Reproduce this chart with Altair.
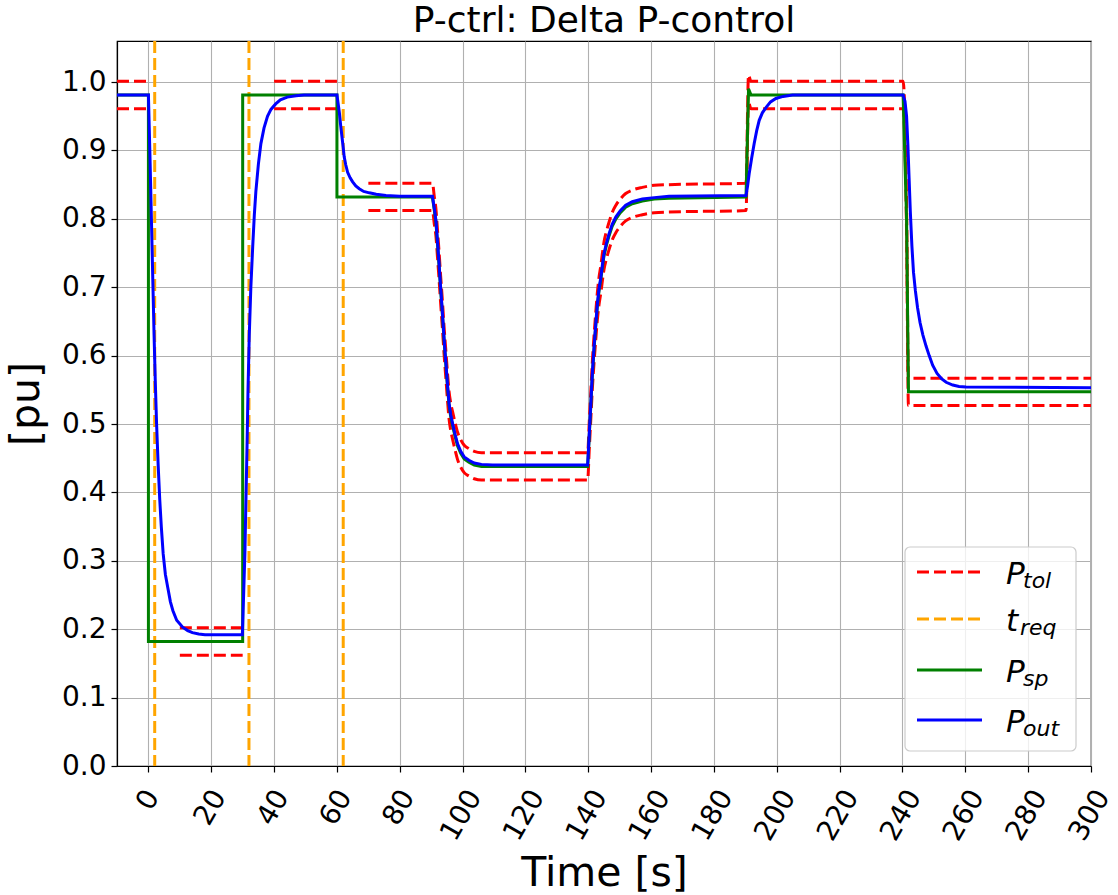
import altair as alt
import pandas as pd

# ---- P_out: measured plant output [pu] ----
t_out = [-10, 0, 0.5, 1.0, 1.4, 1.8, 2.2, 2.6, 3.1, 3.6, 4.1, 4.7, 5.4, 6.2, 7.0, 7.8, 9.0,
         10.9, 12.5, 14, 16, 18, 29.9,
         30.3, 30.7, 31.0, 31.4, 31.7, 32.1, 32.6, 33.2, 33.7, 34.2, 35.0, 35.8, 36.8,
         37.9, 39.0, 40.5, 42.0, 44.2, 47, 49.5, 60,
         60.4, 60.8, 61.2, 61.6, 62.0, 62.3, 62.8, 63.4, 64.2, 65, 66, 67.1, 68.5, 70.3,
         72.5, 75.6, 80, 90.4,
         91.0, 91.5, 92.0, 92.5, 93.0, 93.6, 94.1, 94.7, 95.2, 95.7, 96.2, 96.8, 97.6,
         98.4, 99.4, 100.5, 102, 103.7, 106, 109.5, 139.8,
         140.3, 140.8, 141.3, 141.9, 142.4, 142.9, 143.4, 144.0, 144.5, 145.0, 145.8,
         146.6, 147.6, 148.8, 150.2, 151.9, 154, 157.2, 161, 165.7, 190.2,
         190.7, 191.2, 192.0, 192.8, 193.6, 194.4, 195.4, 196.6, 198, 199.7, 202, 205, 240.2,
         240.8, 241.3, 241.7, 242.1, 242.5, 243.0, 243.5, 244.1, 244.8, 245.6, 246.5,
         247.5, 248.5, 249.6, 251, 252.5, 253.9, 256, 258, 260.2, 300]
p_out = [0.981, 0.981, 0.89, 0.79, 0.71, 0.63, 0.56, 0.50, 0.44, 0.39, 0.35, 0.31, 0.28,
         0.26, 0.24, 0.227, 0.213,
         0.203, 0.198, 0.195, 0.193, 0.192, 0.192,
         0.25, 0.31, 0.38, 0.47, 0.55, 0.63, 0.70, 0.76, 0.805, 0.84, 0.88, 0.91, 0.933,
         0.95, 0.96, 0.968, 0.974, 0.978, 0.980, 0.981, 0.981,
         0.968, 0.954, 0.936, 0.92, 0.904, 0.891, 0.879, 0.868, 0.86, 0.854, 0.848, 0.844,
         0.840, 0.838, 0.836, 0.834, 0.833, 0.833,
         0.815, 0.798, 0.767, 0.735, 0.700, 0.661, 0.625, 0.588, 0.557, 0.530, 0.514,
         0.501, 0.485, 0.471, 0.460, 0.452, 0.447, 0.443, 0.441, 0.440, 0.440,
         0.485, 0.530, 0.575, 0.617, 0.648, 0.676, 0.697, 0.715, 0.733, 0.749, 0.765,
         0.778, 0.792, 0.803, 0.812, 0.820, 0.825, 0.829, 0.831, 0.833, 0.834,
         0.848, 0.866, 0.889, 0.910, 0.929, 0.944, 0.955, 0.963, 0.971, 0.976, 0.979,
         0.981, 0.981,
         0.972, 0.950, 0.910, 0.860, 0.810, 0.760, 0.722, 0.695, 0.670, 0.648, 0.630,
         0.614, 0.600, 0.586, 0.574, 0.566, 0.561, 0.557, 0.555, 0.554, 0.553]

# ---- P_sp: active power setpoint [pu] ----
t_sp = [-10, 0, 0, 30, 30, 60, 60, 90.4,
        91.0, 91.5, 92.0, 92.5, 93.0, 93.6, 94.1, 94.7, 95.2, 95.7, 96.2, 96.8, 97.6,
        98.4, 99.4, 100.5, 102, 103.7, 106, 109.5, 139.8,
        140.3, 140.8, 141.3, 141.9, 142.4, 142.9, 143.4, 144.0, 144.5, 145.0, 145.8,
        146.6, 147.6, 148.8, 150.2, 151.9, 154, 157.2, 161, 165.7, 190.2,
        191.0, 191.8, 240.2, 241.3, 241.9, 300]
p_sp = [0.981, 0.981, 0.182, 0.182, 0.981, 0.981, 0.832, 0.832,
        0.812, 0.795, 0.764, 0.732, 0.697, 0.658, 0.622, 0.585, 0.554, 0.527, 0.511,
        0.498, 0.482, 0.468, 0.457, 0.449, 0.444, 0.440, 0.438, 0.438, 0.438,
        0.482, 0.527, 0.572, 0.614, 0.645, 0.673, 0.694, 0.712, 0.730, 0.746, 0.762,
        0.775, 0.789, 0.800, 0.809, 0.817, 0.822, 0.826, 0.829, 0.830, 0.832,
        0.990, 0.981, 0.981, 0.800, 0.547, 0.547]

# ---- tolerance band around the setpoint ----
TOL = 0.02
tol_windows = [(-10, 0), (10, 30), (40, 60)]
tol_levels = [0.981, 0.182, 0.981]
TOL_TRACK_START = 70          # from here on the band follows the setpoint

# ---- time of required response ----
t_req = [2, 32, 62]

# ---- axis ticks ----
x_ticks = list(range(0, 301, 20))
y_ticks = [round(0.1 * i, 1) for i in range(11)]

# build the tolerance segments (upper and lower line of each window)
tol_rows = []
segments = [list(zip([a, b], [lvl, lvl])) for (a, b), lvl in zip(tol_windows, tol_levels)]
track = [(TOL_TRACK_START, p_sp[t_sp.index(90.4)])] + [
    (t, v) for t, v in zip(t_sp, p_sp) if t > TOL_TRACK_START]
segments.append(track)
for k, seg in enumerate(segments):
    for side, sign in (("hi", 1), ("lo", -1)):
        for i, (t, v) in enumerate(seg):
            tol_rows.append({"t": t, "value": round(v + sign * TOL, 4),
                             "seg": f"{k}{side}", "idx": i})
df_tol = pd.DataFrame(tol_rows)
df_sp = pd.DataFrame({"t": t_sp, "value": p_sp, "idx": range(len(t_sp))})
df_out = pd.DataFrame({"t": t_out, "value": p_out, "idx": range(len(t_out))})
df_req = pd.DataFrame({"t": t_req})

FONT = "DejaVu Sans"
W, H = 974, 725
DASH = [12, 5]

x_scale = alt.Scale(domain=[-10, 300], nice=False, zero=False)
y_scale = alt.Scale(domain=[0, 1.06], nice=False, zero=False)

x_axis = alt.Axis(
    values=x_ticks, format="d", title="Time [s]",
    labelAngle=300, labelAlign="right", labelBaseline="middle",
    labelOffset={"condition": [{"test": "datum.value >= 100", "value": 12},
                               {"test": "datum.value >= 10", "value": 8}],
                 "value": 4},
    labelPadding=20, labelFontSize=28, titleFontSize=41, titlePadding=8,
)
y_axis = alt.Axis(
    values=y_ticks, format=".1f", title="[pu]",
    labelFontSize=28, labelPadding=5, titleFontSize=41, titlePadding=14,
)

def xenc():
    return alt.X("t:Q", scale=x_scale, axis=x_axis)

def yenc():
    return alt.Y("value:Q", scale=y_scale, axis=y_axis)

tol_layer = alt.Chart(df_tol).mark_line(
    color="red", strokeWidth=3, strokeDash=DASH, interpolate="monotone"
).encode(x=xenc(), y=yenc(), detail="seg:N", order="idx:Q")

req_layer = alt.Chart(df_req).mark_rule(
    color="orange", strokeWidth=3, strokeDash=DASH
).encode(x=xenc())

sp_layer = alt.Chart(df_sp).mark_line(color="green", strokeWidth=3).encode(
    x=xenc(), y=yenc(), order="idx:Q")

out_layer = alt.Chart(df_out).mark_line(color="blue", strokeWidth=3).encode(
    x=xenc(), y=yenc(), order="idx:Q")

# ---- legend (drawn by hand to allow subscripted labels) ----
legend_main = ["P", "t", "P", "P"]
legend_sub = ["tol", "req", "sp", "out"]
legend_color = ["red", "orange", "green", "blue"]
legend_dashed = [True, True, False, False]
row_y = [531, 578, 629, 679]
sub_x = [906, 903, 906, 906]

one = pd.DataFrame({"k": [0]})
legend_layers = [
    alt.Chart(one).mark_rect(
        fill="white", fillOpacity=0.8, stroke="#cccccc", strokeWidth=1.2,
        cornerRadius=5
    ).encode(x=alt.value(788), x2=alt.value(959), y=alt.value(506), y2=alt.value(710))
]
for m, s, c, d, ry, sx in zip(legend_main, legend_sub, legend_color, legend_dashed,
                              row_y, sub_x):
    rule_kw = {"strokeDash": DASH} if d else {}
    legend_layers.append(
        alt.Chart(one).mark_rule(color=c, strokeWidth=3, **rule_kw).encode(
            x=alt.value(800), x2=alt.value(865), y=alt.value(ry)))
    legend_layers.append(
        alt.Chart(pd.DataFrame({"lab": [m]})).mark_text(
            font=FONT, fontSize=31, fontStyle="italic", align="left",
            baseline="alphabetic", color="black"
        ).encode(x=alt.value(889), y=alt.value(ry + 12), text="lab:N"))
    legend_layers.append(
        alt.Chart(pd.DataFrame({"lab": [s]})).mark_text(
            font=FONT, fontSize=22, fontStyle="italic", align="left",
            baseline="alphabetic", color="black"
        ).encode(x=alt.value(sx), y=alt.value(ry + 16), text="lab:N"))

chart = alt.layer(
    tol_layer, req_layer, sp_layer, out_layer, *legend_layers
).properties(
    width=W, height=H,
    title=alt.TitleParams("P-ctrl: Delta P-control", font=FONT, fontSize=36,
                          fontWeight="normal", anchor="middle", offset=0,
                          color="black"),
    autosize=alt.AutoSizeParams(type="none"),
    padding={"left": 117, "top": 41, "right": 27, "bottom": 129},
).configure(
    font=FONT,
).configure_view(
    stroke="black", strokeWidth=1.2,
).configure_axis(
    labelFont=FONT, titleFont=FONT, labelColor="black", titleColor="black",
    titleFontWeight="normal", domainColor="black", domainWidth=1.2,
    tickColor="black", tickWidth=1.2, tickSize=6,
    grid=True, gridColor="#b0b0b0", gridWidth=1.1,
)

chart.save("out.html", embed_options={"renderer": "svg", "actions": False})
